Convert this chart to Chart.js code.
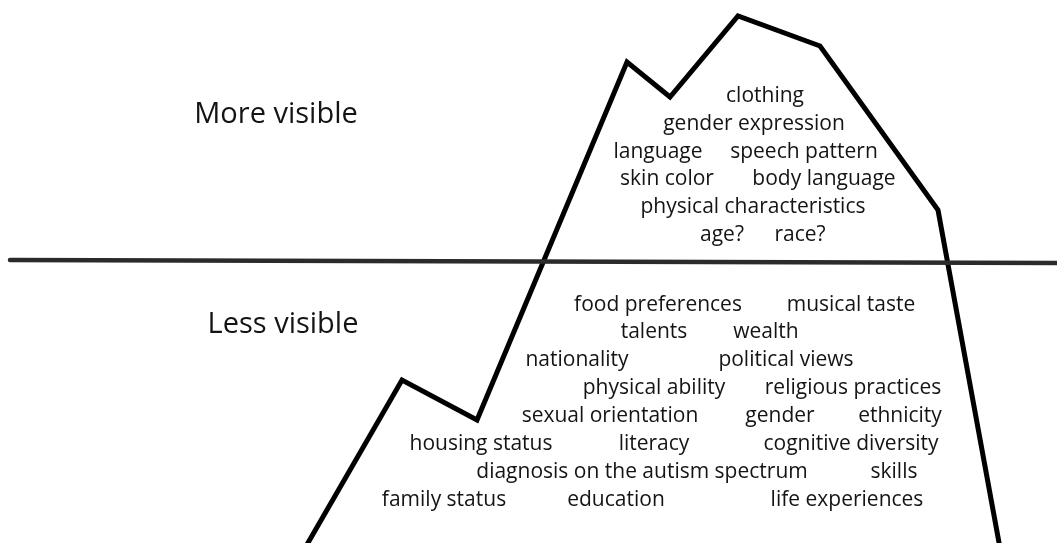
<!DOCTYPE html>
<html>
<head>
<meta charset="utf-8">
<title>Iceberg of identity</title>
<script src="https://cdn.jsdelivr.net/npm/chart.js@4"></script>
<style>
  html, body { margin: 0; padding: 0; background: #fff; }
  canvas { display: block; }
</style>
</head>
<body>
<canvas id="iceberg" width="1057" height="543"></canvas>
<script>
// --- Data ---
// iceberg outline, traced from left foot over the peaks to right foot
const outlineX = [305, 402, 477, 627, 670, 738, 820, 938, 1000];
const outlineY = [548, 380, 420, 62, 97, 16, 46, 210, 548];

// the water line
const waterX = [10, 1065];
const waterY = [260, 263];

// the two side headings
const sideLabels = ['More visible', 'Less visible'];
const sideX = [276, 283];
const sideY = [123, 333];

// items written inside the iceberg (x = centre, y = baseline)
const itemLabels = [
    'clothing', 'gender expression', 'language', 'speech pattern',
    'skin color', 'body language', 'physical characteristics', 'age?', 'race?',
    'food preferences', 'musical taste', 'talents', 'wealth',
    'nationality', 'political views', 'physical ability', 'religious practices',
    'sexual orientation', 'gender', 'ethnicity',
    'housing status', 'literacy', 'cognitive diversity',
    'diagnosis on the autism spectrum', 'skills',
    'family status', 'education', 'life experiences'
];
const itemX = [
    765, 754, 658, 804,
    667, 824, 753, 722, 800,
    658, 851, 654, 766,
    577, 786, 654, 853,
    610, 780, 900,
    481, 654, 851,
    642, 894,
    444, 616, 847
];
const itemY = [
    102, 130, 158, 158,
    185, 185, 213, 241, 241,
    311, 311, 338, 338,
    366, 366, 394, 394,
    422, 422, 422,
    450, 450, 450,
    478, 478,
    506, 506, 506
];

const toPoints = (xs, ys) => xs.map((x, i) => ({ x: x, y: ys[i] }));

// --- Text plugin: writes the words at data coordinates ---
const wordsPlugin = {
    id: 'icebergWords',
    afterDatasetsDraw(chart) {
        const ctx = chart.ctx;
        const sx = chart.scales.x;
        const sy = chart.scales.y;
        ctx.save();
        ctx.fillStyle = '#141414';
        ctx.textAlign = 'center';
        ctx.textBaseline = 'alphabetic';

        ctx.font = '29px "Open Sans"';
        sideLabels.forEach((t, i) => {
            ctx.fillText(t, sx.getPixelForValue(sideX[i]), sy.getPixelForValue(sideY[i]));
        });

        ctx.font = '21px "Open Sans"';
        itemLabels.forEach((t, i) => {
            ctx.fillText(t, sx.getPixelForValue(itemX[i]), sy.getPixelForValue(itemY[i]));
        });
        ctx.restore();
    }
};

new Chart(document.getElementById('iceberg').getContext('2d'), {
    type: 'scatter',
    data: {
        datasets: [
            {
                label: 'water line',
                data: toPoints(waterX, waterY),
                showLine: true,
                borderColor: '#2b2b2b',
                borderWidth: 4.5,
                borderCapStyle: 'round',
                pointRadius: 0,
                clip: false
            },
            {
                label: 'iceberg',
                data: toPoints(outlineX, outlineY),
                showLine: true,
                borderColor: '#000',
                borderWidth: 5,
                borderJoinStyle: 'miter',
                pointRadius: 0,
                tension: 0
            }
        ]
    },
    options: {
        responsive: false,
        animation: false,
        events: [],
        layout: { padding: 0 },
        scales: {
            x: { type: 'linear', min: 0, max: 1057, display: false },
            y: { type: 'linear', min: 0, max: 543, reverse: true, display: false }
        },
        plugins: {
            legend: { display: false },
            tooltip: { enabled: false }
        }
    },
    plugins: [wordsPlugin]
});
</script>
</body>
</html>
